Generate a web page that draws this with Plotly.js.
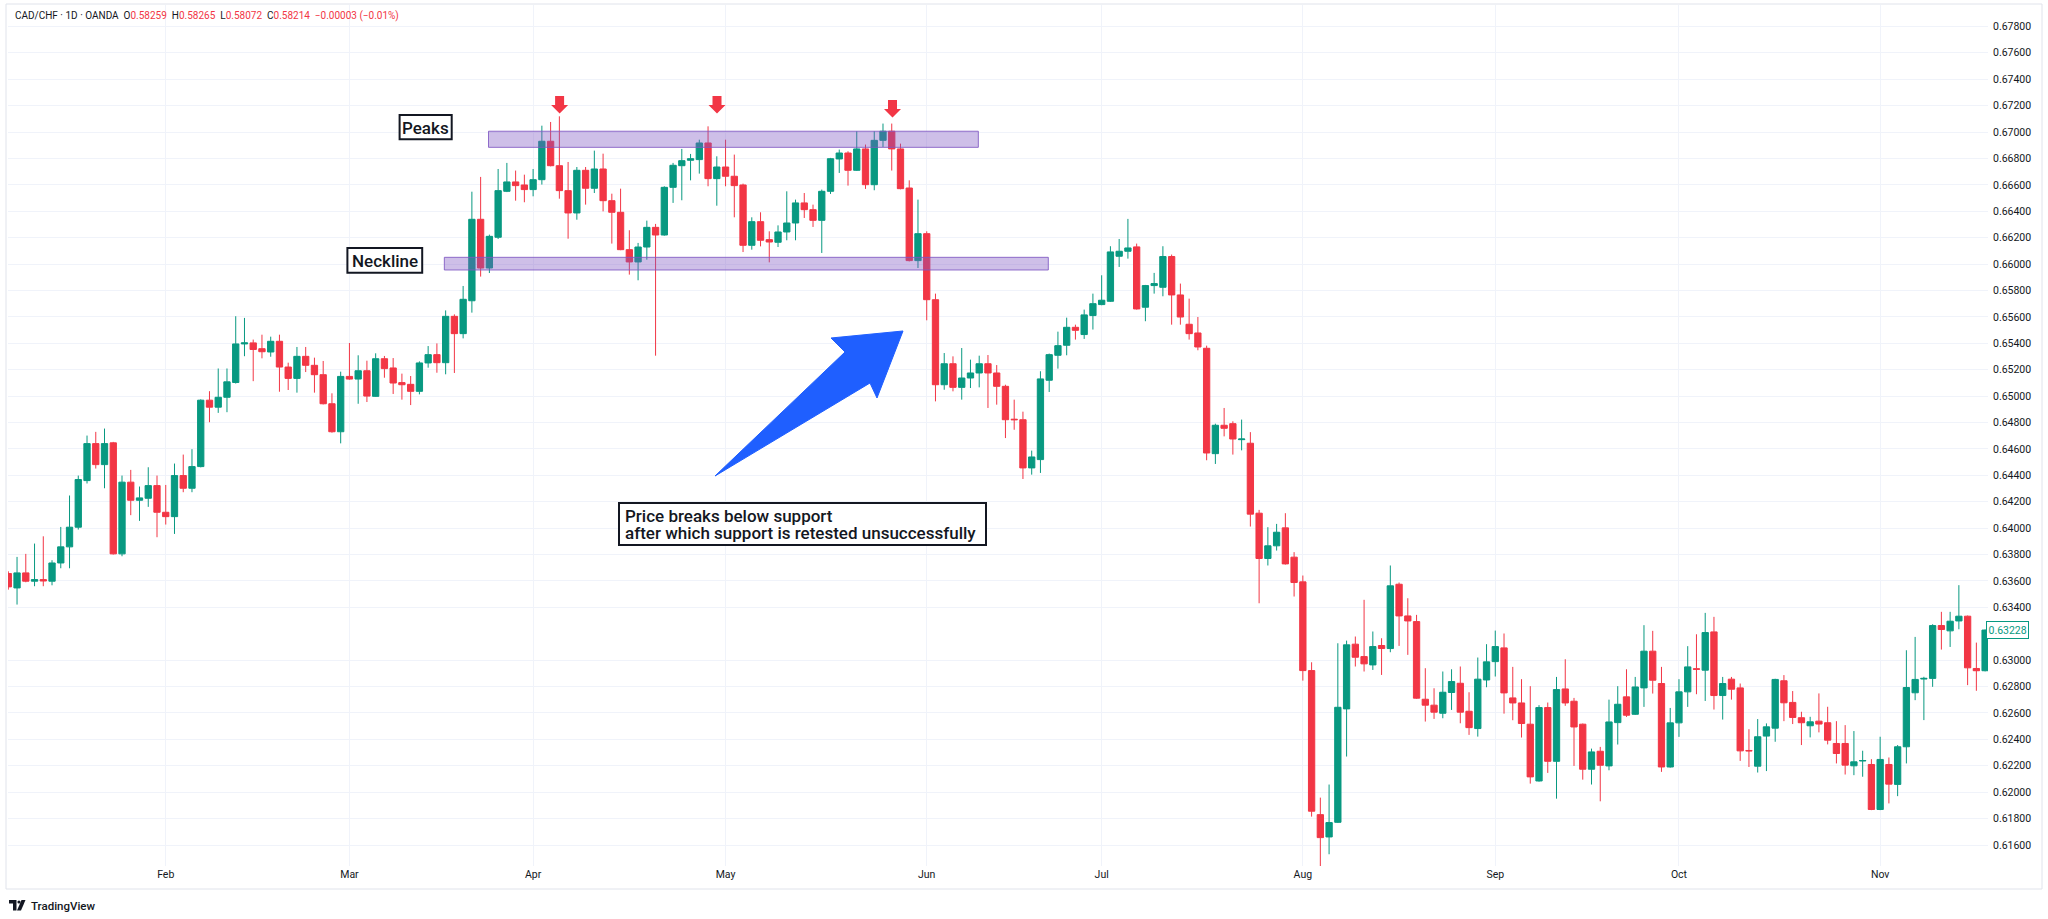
<!DOCTYPE html>
<html>
<head>
<meta charset="utf-8">
<script src="https://cdn.plot.ly/plotly-3.0.1.min.js"></script>
<style>
  html, body { margin: 0; padding: 0; background: #ffffff; }
  #chart { width: 2048px; height: 919px; }
</style>
</head>
<body>
<div id="chart"></div>
<script>
// ---------------- DATA ----------------
const symbolTitle = 'CAD/CHF · 1D · OANDA';
const headerOHLC = { O: '0.58259', H: '0.58265', L: '0.58072', C: '0.58214', chg: '−0.00003 (−0.01%)' };
const firstSessionDate = '2024-01-08';
const lastPriceLabel = '0.63228';

const monthLabels = ['Feb', 'Mar', 'Apr', 'May', 'Jun', 'Jul', 'Aug', 'Sep', 'Oct', 'Nov'];
const priceTickLabels = ['0.61600','0.61800','0.62000','0.62200','0.62400','0.62600','0.62800','0.63000',
  '0.63200','0.63400','0.63600','0.63800','0.64000','0.64200','0.64400','0.64600','0.64800','0.65000',
  '0.65200','0.65400','0.65600','0.65800','0.66000','0.66200','0.66400','0.66600','0.66800','0.67000',
  '0.67200','0.67400','0.67600','0.67800'];

const openVals = [
  .63656,.63547,.63661,.63598,.63610,.63598,.63736,.63858,.64007,.64360,
  .64640,.64481,.64646,.63805,.64348,.64211,.64226,.64322,.64120,.64087,
  .64398,.64302,.64466,.64969,.64916,.64991,.65103,.65395,.65403,.65359,
  .65334,.65415,.65220,.65134,.65301,.65233,.65162,.64942,.64730,.65149,
  .65129,.65192,.64998,.65283,.65213,.65102,.65089,.65036,.65251,.65314,
  .65253,.65604,.65473,.65722,.66339,.65970,.66203,.66551,.66622,.66599,
  .66564,.66639,.66930,.66745,.66556,.66387,.66710,.66574,.66720,.66480,
  .66392,.66109,.66016,.66129,.66278,.66220,.66581,.66745,.66786,.66791,
  .66917,.66647,.66735,.66665,.66599,.66142,.66321,.66185,.66165,.66243,
  .66311,.66463,.66412,.66331,.66551,.66796,.66841,.66710,.66872,.66601,
  .66937,.67006,.66872,.66576,.66026,.66230,.65730,.65086,.65245,.65066,
  .65137,.65175,.65245,.65175,.65074,.64825,.64821,.64456,.64519,.65120,
  .65309,.65385,.65521,.65466,.65610,.65693,.65718,.66059,.66097,.66130,
  .65673,.65837,.65824,.66057,.65766,.65544,.65478,.65362,.64564,.64779,
  .64791,.64670,.64643,.64113,.63770,.63866,.64002,.63780,.63593,.62921,
  .61830,.61661,.61772,.62631,.63121,.63027,.62964,.63111,.63088,.63575,
  .63335,.63292,.62704,.62659,.62598,.62755,.62825,.62613,.62482,.62850,
  .62989,.63093,.62714,.62676,.62515,.62085,.62641,.62234,.62782,.62689,
  .62515,.62174,.62310,.62199,.62527,.62722,.62590,.62790,.63068,.62823,
  .62191,.62525,.62760,.62935,.62924,.63214,.62732,.62856,.62790,.62316,
  .62197,.62425,.62485,.62844,.62680,.62564,.62503,.62538,.62526,.62369,
  .62369,.62200,.62236,.62210,.61869,.62210,.62059,.62344,.62753,.62857,
  .62862,.63262,.63222,.63297,.63333,.62937,.62920
];
const highVals = [
  .63673,.63782,.63805,.63883,.63938,.63757,.64009,.64247,.64398,.64701,
  .64729,.64754,.64653,.64398,.64441,.64315,.64461,.64398,.64327,.64489,
  .64557,.64598,.64975,.65037,.65209,.65209,.65605,.65592,.65428,.65465,
  .65450,.65465,.65253,.65372,.65372,.65291,.65266,.65021,.65185,.65402,
  .65309,.65268,.65324,.65304,.65288,.65170,.65152,.65263,.65379,.65399,
  .65649,.65619,.65834,.66548,.66660,.66223,.66720,.66766,.66708,.66677,
  .66720,.67048,.67076,.67119,.66773,.66735,.66735,.66859,.66836,.66533,
  .66571,.66256,.66160,.66329,.66304,.66589,.66766,.66872,.66834,.66942,
  .67043,.66816,.66942,.66829,.66609,.66354,.66392,.66248,.66293,.66551,
  .66488,.66538,.66450,.66564,.66804,.66867,.66854,.67006,.66905,.67006,
  .67064,.67064,.66912,.66634,.66488,.66248,.65776,.65326,.65301,.65364,
  .65276,.65306,.65311,.65235,.65086,.64973,.64882,.64587,.65188,.65322,
  .65488,.65594,.65541,.65655,.65776,.65915,.66135,.66190,.66342,.66155,
  .65842,.65933,.66135,.66072,.65852,.65738,.65599,.65382,.64791,.64910,
  .64809,.64822,.64727,.64138,.64007,.64032,.64113,.63818,.63641,.62984,
  .61959,.62058,.63128,.63148,.63179,.63457,.63217,.63166,.63717,.63588,
  .63469,.63343,.62939,.62787,.62914,.62931,.62952,.62757,.63020,.63121,
  .63224,.63202,.62949,.62856,.62803,.62659,.62679,.62873,.63007,.62714,
  .62520,.62330,.62343,.62701,.62803,.62931,.62873,.63265,.63222,.62949,
  .62638,.62856,.63106,.63196,.63358,.63328,.62873,.62873,.62823,.62477,
  .62554,.62521,.62859,.62887,.62766,.62609,.62571,.62748,.62647,.62538,
  .62508,.62463,.62314,.62250,.62420,.62263,.62357,.63075,.63176,.62874,
  .63272,.63366,.63366,.63568,.63338,.63133,.63232
];
const lowVals = [
  .63534,.63421,.63590,.63560,.63560,.63567,.63696,.63696,.63989,.64338,
  .64451,.64302,.63800,.63787,.64098,.64055,.64161,.63931,.64027,.63956,
  .64272,.64272,.64460,.64802,.64873,.64878,.65095,.65302,.65113,.65286,
  .65298,.65033,.65046,.65026,.65182,.65026,.64937,.64723,.64642,.65124,
  .64942,.64955,.64995,.65139,.65016,.64973,.64932,.65013,.65215,.65177,
  .65165,.65175,.65437,.65632,.65905,.65932,.66190,.66545,.66480,.66468,
  .66513,.66602,.66740,.66495,.66192,.66336,.66450,.66538,.66399,.66155,
  .66105,.65920,.65877,.66033,.65306,.66215,.66463,.66483,.66634,.66685,
  .66589,.66442,.66589,.66354,.66091,.66109,.66134,.66013,.66129,.66180,
  .66180,.66349,.66281,.66084,.66531,.66690,.66594,.66705,.66569,.66559,
  .66887,.66708,.66566,.66020,.65970,.65574,.64960,.65048,.65036,.64973,
  .65061,.65066,.64910,.64935,.64682,.64745,.64372,.64405,.64418,.65031,
  .65208,.65309,.65428,.65433,.65504,.65688,.65713,.65978,.66041,.65655,
  .65567,.65776,.65756,.65541,.65541,.65428,.65347,.64514,.64486,.64695,
  .64557,.64589,.64012,.63431,.63717,.63830,.63724,.63482,.62845,.61815,
  .61441,.61530,.61767,.62270,.62952,.62914,.62926,.62888,.63060,.63108,
  .63040,.62707,.62535,.62555,.62560,.62623,.62522,.62434,.62421,.62795,
  .62876,.62595,.62545,.62414,.62065,.62080,.62146,.61951,.62654,.62199,
  .62095,.62058,.61931,.62166,.62361,.62570,.62585,.62646,.62747,.62154,
  .62186,.62419,.62646,.62742,.62691,.62626,.62550,.62701,.62237,.62191,
  .62149,.62160,.62382,.62538,.62516,.62357,.62415,.62453,.62362,.62218,
  .62134,.62129,.62117,.61864,.61864,.61915,.61970,.62218,.62697,.62546,
  .62798,.63080,.63100,.63234,.62811,.62768,.62915
];
const closeVals = [
  .63555,.63661,.63598,.63610,.63600,.63736,.63858,.64007,.64368,.64640,
  .64481,.64640,.63805,.64348,.64211,.64229,.64322,.64120,.64087,.64398,
  .64302,.64466,.64969,.64916,.64991,.65108,.65395,.65403,.65353,.65336,
  .65415,.65220,.65134,.65301,.65233,.65162,.64942,.64730,.65149,.65129,
  .65192,.65000,.65283,.65208,.65099,.65086,.65036,.65251,.65314,.65253,
  .65604,.65473,.65733,.66339,.65970,.66210,.66556,.66622,.66594,.66564,
  .66639,.66930,.66745,.66556,.66387,.66710,.66574,.66720,.66480,.66392,
  .66109,.66016,.66129,.66278,.66220,.66581,.66748,.66783,.66798,.66917,
  .66647,.66735,.66665,.66594,.66142,.66321,.66180,.66167,.66243,.66311,
  .66463,.66412,.66331,.66551,.66798,.66841,.66710,.66872,.66601,.66937,
  .67006,.66872,.66571,.66026,.66230,.65730,.65086,.65245,.65066,.65137,
  .65175,.65245,.65175,.65074,.64821,.64821,.64456,.64539,.65130,.65314,
  .65382,.65521,.65498,.65615,.65700,.65726,.66092,.66097,.66122,.65660,
  .65837,.65852,.66057,.65766,.65599,.65473,.65372,.64569,.64779,.64756,
  .64675,.64675,.64106,.63770,.63866,.63969,.63729,.63588,.62921,.61856,
  .61656,.61770,.62643,.63116,.63022,.62972,.63103,.63088,.63563,.63335,
  .63297,.62712,.62659,.62606,.62757,.62838,.62606,.62489,.62856,.62987,
  .63103,.62752,.62676,.62520,.62116,.62641,.62234,.62777,.62676,.62494,
  .62174,.62305,.62204,.62532,.62666,.62583,.62797,.63068,.62848,.62191,
  .62525,.62760,.62949,.62931,.63209,.62732,.62823,.62780,.62313,.62313,
  .62420,.62495,.62854,.62677,.62566,.62526,.62533,.62516,.62394,.62293,
  .62205,.62230,.62240,.61869,.62248,.62061,.62344,.62793,.62854,.62862,
  .63262,.63232,.63295,.63333,.62942,.62920,.63228
];

// Drawn zones (session index range, price range) and labels
const peaksZone    = { x0: 54.9,  x1: 110.9, y0: 0.66884, y1: 0.67006 };
const necklineZone = { x0: 49.85, x1: 118.9, y0: 0.65955, y1: 0.66051 };
const noteLines = ['Price breaks below support', 'after which support is retested unsuccessfully'];

// ---------------- LAYOUT GEOMETRY ----------------
const W = 2048, H = 919;
const M = { l: 8, r: 60, t: 5, b: 53 };
const plotW = W - M.l - M.r, plotH = H - M.t - M.b;
const xRange = [-0.034, 226.33];
const yRange = [0.61441, 0.67962];
const dx = px => xRange[0] + (px - M.l) / plotW * (xRange[1] - xRange[0]);
const dy = py => yRange[1] - (py - M.t) / plotH * (yRange[1] - yRange[0]);
const pX = px => (px - M.l) / plotW;
const pY = py => 1 - (py - M.t) / plotH;
const dataPath = pts => 'M' + pts.map(p => dx(p[0]).toFixed(4) + ',' + dy(p[1]).toFixed(6)).join(' L') + ' Z';
const paperPath = pts => 'M' + pts.map(p => pX(p[0]).toFixed(5) + ',' + pY(p[1]).toFixed(5)).join(' L') + ' Z';

// ---------------- SESSIONS / TICKS ----------------
const n = closeVals.length;
const idx = [], dates = [];
(function () {
  const d = new Date(firstSessionDate + 'T00:00:00Z');
  while (dates.length < n) {
    const wd = d.getUTCDay();
    if (wd !== 0 && wd !== 6) { dates.push(d.toISOString().slice(0, 10)); idx.push(dates.length - 1); }
    d.setUTCDate(d.getUTCDate() + 1);
  }
})();
const monthTickIdx = [];
for (let i = 1; i < n; i++) if (dates[i].slice(5, 7) !== dates[i - 1].slice(5, 7)) monthTickIdx.push(i);
// the last-price badge covers the nearest price label, as in the reference
const lastPrice = Number(lastPriceLabel);
const shownTicks = priceTickLabels.filter(t => Math.abs(Number(t) - lastPrice) > 0.0009);
const priceTickVals = shownTicks.map(Number);

const GREEN = '#089981', RED = '#f23645', TXT = '#131722', GRID = '#f0f3fa';

const trace = {
  type: 'candlestick', x: idx, open: openVals, high: highVals, low: lowVals, close: closeVals,
  increasing: { line: { color: GREEN, width: 1 }, fillcolor: GREEN },
  decreasing: { line: { color: RED, width: 1 }, fillcolor: RED },
  whiskerwidth: 0, hoverinfo: 'skip', showlegend: false
};

// ---------------- ANNOTATION SHAPES ----------------
const shapes = [];
shapes.push({ type: 'rect', xref: 'paper', yref: 'paper', x0: pX(6), x1: pX(2042), y0: pY(889), y1: pY(4),
  line: { color: '#e0e3eb', width: 1 }, fillcolor: 'rgba(0,0,0,0)', layer: 'below' });
[peaksZone, necklineZone].forEach(z => shapes.push({ type: 'rect', xref: 'x', yref: 'y',
  x0: z.x0, x1: z.x1, y0: z.y0, y1: z.y1, fillcolor: 'rgba(126,87,194,0.38)',
  line: { color: 'rgba(126,87,194,0.85)', width: 1 }, layer: 'above' }));
[[559.6, 96], [717, 96], [892.5, 100]].forEach(([cx, top]) => {
  shapes.push({ type: 'path', xref: 'x', yref: 'y', fillcolor: RED, line: { width: 0 }, layer: 'above',
    path: dataPath([[cx - 4.5, top], [cx + 4.5, top], [cx + 4.5, top + 9], [cx + 8.5, top + 9],
                    [cx, top + 17.5], [cx - 8.5, top + 9], [cx - 4.5, top + 9]]) });
});
shapes.push({ type: 'path', xref: 'x', yref: 'y', fillcolor: '#1f5fff', line: { color: '#1f5fff', width: 1 }, layer: 'above',
  path: dataPath([[715, 476], [845, 352], [831, 338], [903, 331], [877, 398], [870, 383]]) });
const boxes = [[399.6, 115, 451.7, 139.3], [347.4, 248, 422.2, 272.7], [619, 503, 986, 545]];
boxes.forEach(b => shapes.push({ type: 'rect', xref: 'paper', yref: 'paper', x0: pX(b[0]), x1: pX(b[2]),
  y0: pY(b[3]), y1: pY(b[1]), fillcolor: '#ffffff', line: { color: TXT, width: 2 }, layer: 'above' }));
shapes.push({ type: 'path', xref: 'paper', yref: 'paper', fillcolor: TXT, line: { width: 0 },
  path: paperPath([[9, 900], [16.5, 900], [16.5, 910.5], [13, 910.5], [13, 903.5], [9, 903.5]]) });
shapes.push({ type: 'circle', xref: 'paper', yref: 'paper', fillcolor: TXT, line: { width: 0 },
  x0: pX(17.4), x1: pX(20.6), y0: pY(903.6), y1: pY(900.4) });
shapes.push({ type: 'path', xref: 'paper', yref: 'paper', fillcolor: TXT, line: { width: 0 },
  path: paperPath([[21.5, 900], [25.5, 900], [21, 910.5], [17, 910.5]]) });

// ---------------- TEXT ----------------
const red = s => '<span style="color:' + RED + '">' + s + '</span>';
const sp = '\u00a0\u00a0';
const headerText = symbolTitle + sp + 'O' + red(headerOHLC.O) + sp + 'H' + red(headerOHLC.H) + sp +
  'L' + red(headerOHLC.L) + sp + 'C' + red(headerOHLC.C) + sp + red(headerOHLC.chg);

const noteFont = { family: 'Roboto, sans-serif', size: 17, color: TXT, weight: 500 };
const annotations = [
  { xref: 'paper', yref: 'paper', x: pX(13), y: pY(16), xanchor: 'left', yanchor: 'middle', showarrow: false,
    text: headerText, font: { family: 'Roboto, sans-serif', size: 10, color: TXT } },
  { xref: 'paper', yref: 'paper', x: pX(425.6), y: pY(127.5), xanchor: 'center', yanchor: 'middle', showarrow: false,
    text: 'Peaks', font: noteFont },
  { xref: 'paper', yref: 'paper', x: pX(384.8), y: pY(260.5), xanchor: 'center', yanchor: 'middle', showarrow: false,
    text: 'Neckline', font: noteFont },
  { xref: 'paper', yref: 'paper', x: pX(623), y: pY(516), xanchor: 'left', yanchor: 'middle', showarrow: false,
    text: noteLines[0], font: noteFont },
  { xref: 'paper', yref: 'paper', x: pX(623), y: pY(533), xanchor: 'left', yanchor: 'middle', showarrow: false,
    text: noteLines[1], font: noteFont },
  { xref: 'paper', yref: 'y', x: pX(1986), y: lastPrice, xanchor: 'left', yanchor: 'middle', showarrow: false,
    text: lastPriceLabel, bgcolor: '#ffffff', bordercolor: GREEN, borderwidth: 1, borderpad: 1.5,
    font: { family: 'Roboto, sans-serif', size: 10.5, color: GREEN } },
  { xref: 'paper', yref: 'paper', x: pX(29), y: pY(905.5), xanchor: 'left', yanchor: 'middle', showarrow: false,
    text: 'TradingView', font: { family: 'Roboto, sans-serif', size: 11.5, color: TXT, weight: 500 } }
];

const layout = {
  width: W, height: H, margin: M, paper_bgcolor: '#ffffff', plot_bgcolor: '#ffffff',
  showlegend: false, dragmode: false, boxgap: 0.28, boxgroupgap: 0,
  xaxis: { type: 'linear', range: xRange, tickvals: monthTickIdx, ticktext: monthLabels,
    showgrid: true, gridcolor: GRID, gridwidth: 1, zeroline: false, showline: false, ticks: '',
    tickfont: { family: 'Roboto, sans-serif', size: 10.5, color: TXT }, rangeslider: { visible: false },
    fixedrange: true },
  yaxis: { side: 'right', range: yRange, tickvals: priceTickVals, ticktext: shownTicks,
    showgrid: true, gridcolor: GRID, gridwidth: 1, zeroline: false, showline: false, ticks: '',
    ticklabelstandoff: 4,
    tickfont: { family: 'Roboto, sans-serif', size: 10.5, color: TXT }, fixedrange: true },
  shapes: shapes, annotations: annotations
};

Plotly.newPlot('chart', [trace], layout, { displayModeBar: false, staticPlot: true });
</script>
</body>
</html>
